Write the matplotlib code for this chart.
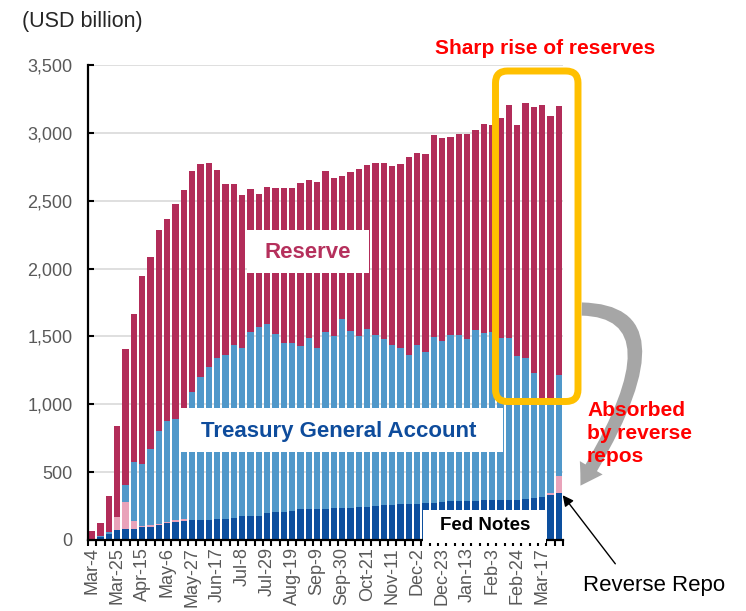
import numpy as np
import matplotlib
matplotlib.use('Agg')
import matplotlib.pyplot as plt
from matplotlib.patches import Rectangle, FancyBboxPatch, FancyArrowPatch

plt.rcParams['font.family'] = ['Liberation Sans', 'DejaVu Sans']

# weekly data, USD billion
fed_notes = [3, 20, 44, 76, 80, 81, 95, 98, 113, 123, 135, 142, 145, 147, 147, 157, 157, 165, 177, 178,
             179, 197, 204, 204, 214, 226, 231, 231, 231, 238, 238, 238, 246, 246, 253, 260, 260, 265, 265, 265,
             270, 272, 282, 287, 287, 287, 287, 295, 295, 295, 295, 297, 300, 307, 319, 332, 344]
reverse_repo = [5, 0, 0, 96, 203, 59, 8, 10, 5, 10, 10, 10, 5, 0, 0, 0, 0, 0, 0, 0,
                0, 0, 0, 0, 0, 0, 0, 0, 0, 0, 0, 0, 0, 0, 0, 0, 0, 0, 0, 0,
                0, 0, 0, 0, 0, 0, 0, 0, 0, 0, 0, 0, 0, 0, 0, 17, 128]
tga = [0, 8, 17, 0, 122, 433, 457, 563, 685, 744, 747, 808, 939, 1052, 1130, 1182, 1206, 1272, 1238, 1353,
       1388, 1397, 1312, 1250, 1240, 1206, 1255, 1184, 1300, 1263, 1391, 1305, 1255, 1309, 1255, 1221, 1177, 1150, 1096, 1172,
       1113, 1222, 1187, 1221, 1221, 1194, 1261, 1228, 1240, 1191, 1191, 1061, 1039, 923, 676, 646, 744]
reserve = [58, 95, 263, 668, 1003, 1093, 1386, 1415, 1479, 1489, 1584, 1617, 1633, 1570, 1501, 1386, 1259, 1185, 1130, 1052,
           985, 1004, 1079, 1143, 1143, 1197, 1165, 1221, 1191, 1165, 1054, 1172, 1229, 1207, 1271, 1298, 1317, 1354, 1462, 1417,
           1464, 1489, 1494, 1465, 1487, 1514, 1471, 1543, 1524, 1620, 1720, 1701, 1884, 1964, 2211, 2130, 1983]
tick_labels = ['Mar-4', 'Mar-25', 'Apr-15', 'May-6', 'May-27', 'Jun-17', 'Jul-8', 'Jul-29', 'Aug-19', 'Sep-9',
               'Sep-30', 'Oct-21', 'Nov-11', 'Dec-2', 'Dec-23', 'Jan-13', 'Feb-3', 'Feb-24', 'Mar-17']

c_fed = '#0c4f9e'
c_rr = '#e9a3ba'
c_tga = '#5098ca'
c_res = '#b22c59'

W, H = 746, 611
fig = plt.figure(figsize=(W / 100, H / 100), dpi=100)
ax = fig.add_axes([88 / W, 1 - 540 / H, (563 - 88) / W, (540 - 65) / H])

x = np.arange(len(fed_notes))
fed_notes = np.array(fed_notes)
reverse_repo = np.array(reverse_repo)
tga = np.array(tga)
reserve = np.array(reserve)
wd = 0.78
ax.bar(x, fed_notes, wd, color=c_fed, zorder=2)
ax.bar(x, reverse_repo, wd, bottom=fed_notes, color=c_rr, zorder=2)
ax.bar(x, tga, wd, bottom=fed_notes + reverse_repo, color=c_tga, zorder=2)
ax.bar(x, reserve, wd, bottom=fed_notes + reverse_repo + tga, color=c_res, zorder=2)

ax.set_xlim(-0.5, len(x) - 0.5)
ax.set_ylim(0, 3500)
ax.set_yticks(np.arange(0, 3501, 500))
ax.set_yticklabels(['{:,}'.format(v) for v in range(0, 3501, 500)])
ax.grid(axis='y', color='#d9d9d9', lw=1.2, zorder=0)
ax.set_axisbelow(True)
for s in ['top', 'right']:
    ax.spines[s].set_visible(False)
for s in ['left', 'bottom']:
    ax.spines[s].set_linewidth(1.6)
ax.tick_params(axis='y', direction='in', length=4, width=1.5, pad=11, labelsize=13, labelcolor='#595959')
ax.set_xticks(np.arange(0, len(x), 3))
ax.set_xticklabels(tick_labels, rotation=90, fontsize=13, color='#595959')
ax.set_xticks(np.arange(-0.5, len(x)), minor=True)
ax.tick_params(axis='x', which='major', length=0, pad=5)
ax.tick_params(axis='x', which='minor', direction='out', length=4, width=1.5)


def P(px, py):
    return (px / 100, (H - py) / 100)


tr = fig.dpi_scale_trans


def box(x0, y0, x1, y1):
    fig.add_artist(Rectangle(P(x0, y1), (x1 - x0) / 100, (y1 - y0) / 100, transform=tr,
                             facecolor='white', edgecolor='none', zorder=3))


box(247, 230, 369, 273)
box(180, 408, 503, 452)
box(423, 510, 546, 543)
fig.text(*P(308, 253), 'Reserve', transform=tr, ha='center', va='center', fontsize=16,
         fontweight='bold', color='#b5305c', zorder=4)
fig.text(*P(339, 431), 'Treasury General Account', transform=tr, ha='center', va='center', fontsize=16,
         fontweight='bold', color='#0e4c9c', zorder=4)
fig.text(*P(485, 526), 'Fed Notes', transform=tr, ha='center', va='center', fontsize=13.5,
         fontweight='bold', color='black', zorder=4)

# yellow highlight box
fig.add_artist(FancyBboxPatch(P(495.5 + 12, 401.5 - 12), (578 - 495.5 - 24) / 100, (401.5 - 71 - 24) / 100,
                              boxstyle='round,pad=0.12,rounding_size=0.12', transform=tr,
                              facecolor='none', edgecolor='#ffc000', lw=5, zorder=5))

fig.text(*P(545, 48), 'Sharp rise of reserves', transform=tr, ha='center', va='center', fontsize=15,
         fontweight='bold', color='#ff0000')

# grey curved arrow
fig.add_artist(FancyArrowPatch(P(579, 309), P(579, 488), transform=tr,
                               connectionstyle='angle3,angleA=0,angleB=58',
                               arrowstyle='simple,head_width=1.9,head_length=1.5,tail_width=0.95',
                               mutation_scale=10, color='#a6a6a6', lw=0, zorder=5))
fig.text(*P(587, 401), 'Absorbed\nby reverse\nrepos', transform=tr, ha='left', va='top', fontsize=15,
         fontweight='bold', color='#ff0000', linespacing=1.25, zorder=6)

fig.text(*P(654, 585), 'Reverse Repo', transform=tr, ha='center', va='center', fontsize=16, color='black')
fig.add_artist(FancyArrowPatch(P(617, 566), P(561, 493), transform=tr, arrowstyle='-|>',
                               mutation_scale=16, color='black', lw=1, zorder=6))

fig.text(*P(22, 21), '(USD billion)', transform=tr, ha='left', va='center', fontsize=15.5, color='#262626')

fig.savefig('out.png', dpi=100)
